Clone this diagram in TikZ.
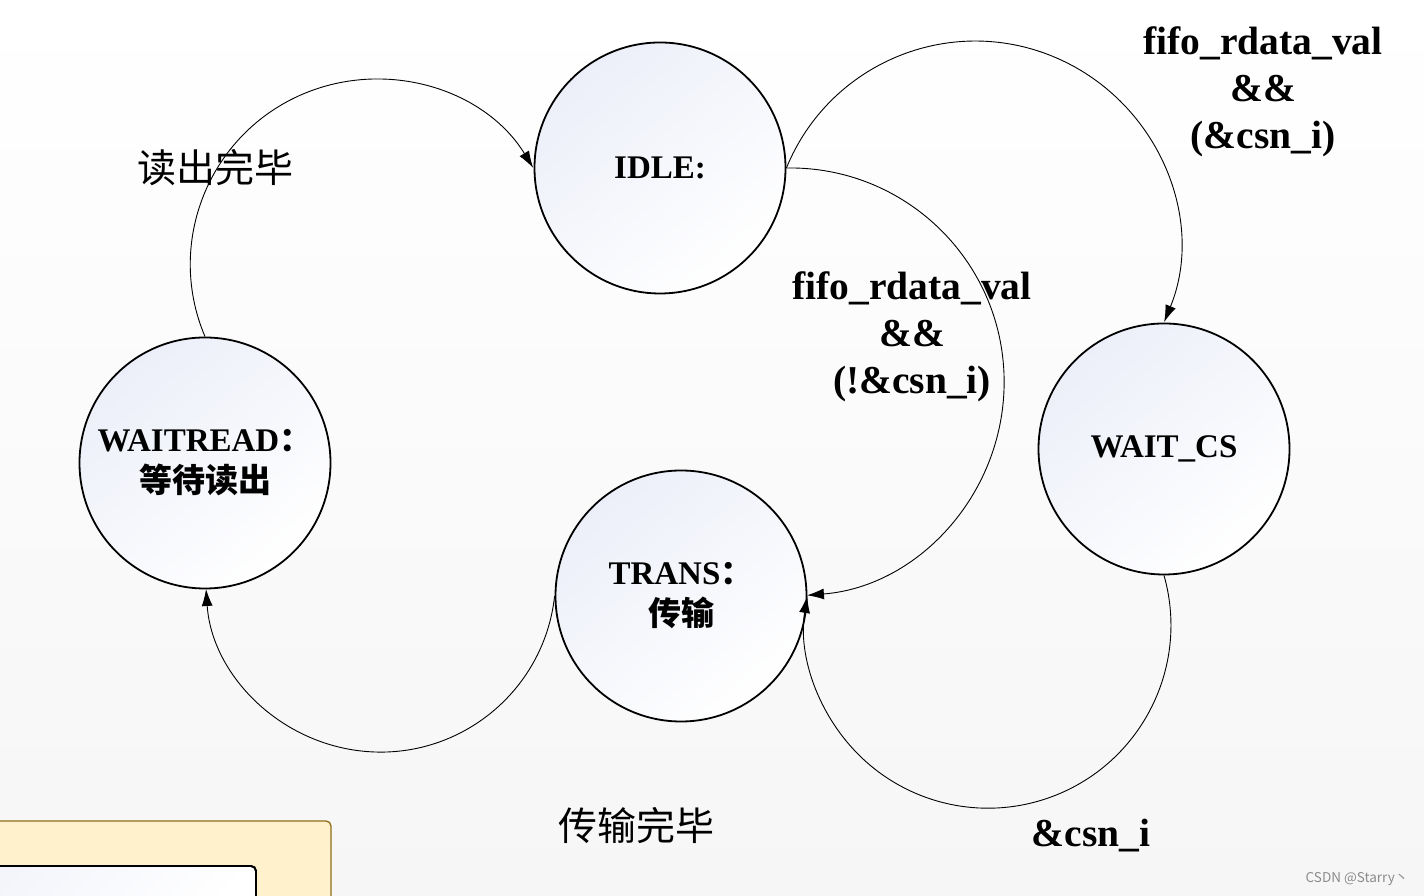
\documentclass[tikz,border=0pt]{standalone}
\usepackage{fontspec}
\setmainfont{Liberation Serif}
\newfontfamily\cjk{Noto Sans CJK SC}
\newfontfamily\wmfont{Noto Sans CJK SC}
\usetikzlibrary{arrows.meta}
\definecolor{bgbot}{HTML}{F6F6F6}
\definecolor{circtop}{HTML}{ECEFF9}
\definecolor{ybox}{HTML}{FFF1CC}
\definecolor{ydraw}{HTML}{8F6E17}
\begin{document}
\begin{tikzpicture}[x=1pt,y=1pt,
  state/.style={circle, draw=black, line width=1.8pt, minimum size=251pt, inner sep=0pt,
    top color=circtop, middle color=white, bottom color=white, shading angle=40, align=center,
    font=\fontsize{33}{41}\selectfont\bfseries},
  conn/.style={line width=0.9pt, -{Latex[length=17pt,width=11pt]}},
  lbl/.style={align=center, font=\fontsize{39.5}{47}\selectfont\bfseries},
  cnl/.style={font=\cjk\fontsize{39}{47}\selectfont}]
\useasboundingbox (0,0) rectangle (1424,896);
\shade[top color=white, bottom color=bgbot] (0,0) rectangle (1424,896);
% bottom-left boxes
\draw[fill=ybox, draw=ydraw, line width=1.3pt, rounded corners=5pt] (-20,-20) rectangle (331,75);
\draw[top color=circtop!60, bottom color=white, shading angle=45, draw=black, line width=1.8pt, rounded corners=5pt] (-20,-20) rectangle (256,30);
\draw[draw=black, line width=1.8pt, rounded corners=5pt] (-20,-20) rectangle (256,30);
% states
\node[state] (idle) at (660,728) {IDLE:};
\node[state] (wait) at (1164,447) {WAIT\_CS};
\node[state] (trans) at (681,300) {TRANS{\cjk\bfseries ：}\\{\cjk\bfseries 传输}};
\node[state] (wread) at (205,433) {WAITREAD{\cjk\bfseries ：}\\{\cjk\bfseries 等待读出}};
% connectors
\draw[conn] (wread.north) arc[start angle=203, end angle=31.4, radius=185];
\draw[conn] (idle.east) arc[start angle=157.8, end angle=-22.2, radius=204];
\draw[conn] (idle.east) arc[start angle=91, end angle=-85.5, radius=214];
\draw[conn] (wait.south) arc[start angle=15.8, end angle=-189.2, radius=183];
\draw[conn] (trans.west) arc[start angle=-6.2, end angle=-176.1, radius=175];
% labels
\node[cnl] (l1) at (215,728) {读出完毕};
\node[cnl] (l2) at (636,70) {传输完毕};
\node[lbl] (l3) at (1263,804) {fifo\_rdata\_val\\\&\&\\(\&csn\_i)};
\node[lbl] (l4) at (912,559) {fifo\_rdata\_val\\\&\&\\(!\&csn\_i)};
\node[lbl] (l5) at (1091,60) {\&csn\_i};
\node[font=\wmfont\fontsize{13.5}{16}\selectfont, text=black!45] (wm) at (1357,17) {CSDN @Starry丶};
\end{tikzpicture}
\end{document}
